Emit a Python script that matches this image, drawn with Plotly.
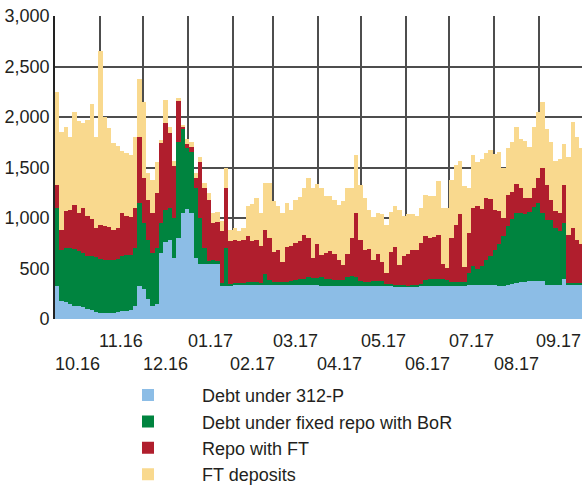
import pandas as pd
import plotly.graph_objects as go

# values, one bar per 3 days starting 1 Oct 2016
debt_312p = [
    330, 175, 170, 150, 130, 125, 115, 100, 86, 70,
    60, 59, 59, 60, 65, 75, 80, 90, 125, 330,
    300, 200, 130, 150, 650, 760, 780, 600, 800, 1050,
    1089, 1050, 600, 545, 545, 545, 545, 545, 330, 330,
    330, 335, 335, 335, 335, 335, 335, 335, 340, 335,
    335, 335, 335, 335, 335, 335, 335, 335, 340, 335,
    335, 325, 325, 325, 325, 325, 325, 325, 325, 325,
    325, 325, 325, 325, 325, 325, 325, 325, 325, 325,
    325, 323, 323, 323, 323, 325, 325, 325, 325, 325,
    325, 328, 328, 330, 330, 333, 335, 337, 338, 340,
    340, 340, 330, 330, 335, 350, 360, 363, 363, 373,
    373, 373, 380, 340, 340, 340, 340, 400, 340, 340,
    340, 340,
]
debt_fixed_repo = [
    770, 511, 533, 553, 560, 545, 535, 520, 534, 540,
    530, 528, 528, 527, 525, 545, 557, 547, 575, 820,
    650, 585, 520, 550, 300, 320, 320, 400, 950, 830,
    601, 600, 700, 455, 155, 25, 35, 25, 30, 370,
    20, 23, 25, 25, 27, 27, 27, 25, 110, 54,
    30, 30, 30, 35, 40, 55, 61, 61, 80, 71,
    75, 91, 75, 71, 65, 58, 58, 95, 105, 91,
    55, 38, 38, 48, 48, 48, 25, 25, 10, 8,
    8, 7, 15, 17, 27, 60, 71, 71, 71, 71,
    65, 38, 38, 36, 40, 127, 185, 158, 190, 240,
    280, 340, 415, 490, 585, 640, 685, 686, 672, 687,
    737, 777, 670, 645, 643, 560, 530, 550, 20, 16,
    16, 16,
]
repo_ft = [
    230, 198, 363, 379, 442, 379, 450, 400, 370, 290,
    340, 330, 323, 297, 310, 429, 379, 373, 400, 650,
    450, 396, 400, 550, 792, 860, 741, 511, 405, 20,
    46, 50, 100, 550, 600, 611, 370, 390, 510, 600,
    420, 422, 410, 425, 458, 408, 423, 360, 430, 411,
    295, 315, 195, 340, 345, 362, 374, 434, 380, 198,
    330, 214, 250, 279, 250, 197, 147, 220, 370, 634,
    400, 317, 330, 207, 274, 188, 105, 310, 375, 197,
    294, 310, 348, 346, 400, 435, 406, 414, 434, 144,
    115, 434, 564, 677, 140, 390, 580, 625, 562, 620,
    570, 400, 325, 180, 310, 270, 295, 251, 163, 140,
    190, 250, 450, 345, 197, 170, 180, 380, 475, 544,
    424, 390,
]
ft_deposits = [
    920, 966, 834, 718, 918, 911, 840, 950, 1140, 900,
    1720, 1083, 980, 856, 810, 611, 624, 610, 700, 580,
    750, 269, 330, 300, 33, 231, 59, 49, 33, 24,
    49, 50, 50, 50, 50, 66, 100, 100, 97, 200,
    114, 120, 100, 115, 300, 370, 415, 330, 470, 550,
    510, 440, 490, 440, 360, 429, 440, 470, 600, 693,
    600, 670, 564, 545, 540, 552, 640, 660, 500, 570,
    550, 520, 387, 430, 398, 479, 479, 400, 410, 546,
    389, 400, 354, 330, 350, 410, 413, 410, 540, 560,
    595, 580, 590, 518, 810, 450, 520, 430, 495, 440,
    480, 550, 580, 500, 460, 490, 560, 480, 562, 500,
    600, 650, 650, 550, 570, 490, 530, 400, 765, 1050,
    1020, 944,
]

month_labels = ['10.16', '11.16', '12.16', '01.17', '02.17', '03.17',
                '04.17', '05.17', '06.17', '07.17', '08.17', '09.17']

series = [
    ('Debt under 312-P', debt_312p, '#8cbde6'),
    ('Debt under fixed repo with BoR', debt_fixed_repo, '#00843f'),
    ('Repo with FT', repo_ft, '#b01e2d'),
    ('FT deposits', ft_deposits, '#f9d98e'),
]

FONT = 'Liberation Sans, Arial, sans-serif'
GRID = '#4d4d4d'

step = pd.Timedelta(days=3)
x = pd.date_range('2016-10-01', periods=len(debt_312p), freq='3D') + step / 2
width_ms = step.total_seconds() * 1000

fig = go.Figure()
for name, vals, color in series:
    fig.add_trace(go.Bar(x=x, y=vals, name=name, width=width_ms,
                         marker=dict(color=color, line=dict(width=0))))

# month labels centred in each month, alternating two rows
month_starts = pd.date_range('2016-10-01', periods=13, freq='MS')
for i, lab in enumerate(month_labels):
    mid = month_starts[i] + (month_starts[i + 1] - month_starts[i]) / 2
    fig.add_annotation(x=mid, xref='x', y=-0.072 if i % 2 else -0.147, yref='paper',
                       text=lab, showarrow=False, yanchor='middle',
                       xshift=-2 if i == len(month_labels) - 1 else 0,
                       font=dict(family=FONT, size=18, color='#231f20'))

fig.update_layout(
    width=582, height=486,
    margin=dict(l=55, r=0, t=16, b=167, autoexpand=False),
    barmode='stack', bargap=0,
    plot_bgcolor='white', paper_bgcolor='white',
    font=dict(family=FONT, size=18, color='#231f20'),
    legend=dict(x=0.074, y=-0.191, xanchor='left', yanchor='top',
                traceorder='normal', itemwidth=98, font=dict(size=18),
                bgcolor='rgba(0,0,0,0)'),
)
fig.update_xaxes(type='date', range=['2016-10-01', '2017-09-30 22:00'],
                 tick0='2016-10-01', dtick='M1', showticklabels=False, ticks='',
                 showgrid=True, gridcolor=GRID, gridwidth=1.6, zeroline=False,
                 automargin=False)
fig.update_yaxes(range=[0, 3000], dtick=500, tickformat=',', ticks='',
                 ticklabelstandoff=0, showgrid=True, gridcolor=GRID, gridwidth=1.6,
                 showline=True, linecolor='#222', linewidth=1.6, zeroline=False,
                 automargin=False)

# drop the default page margin so the figure sits at the window's corner
fig.write_html('out.html', config={'displayModeBar': False},
               post_script="document.body.style.margin = '0';")
